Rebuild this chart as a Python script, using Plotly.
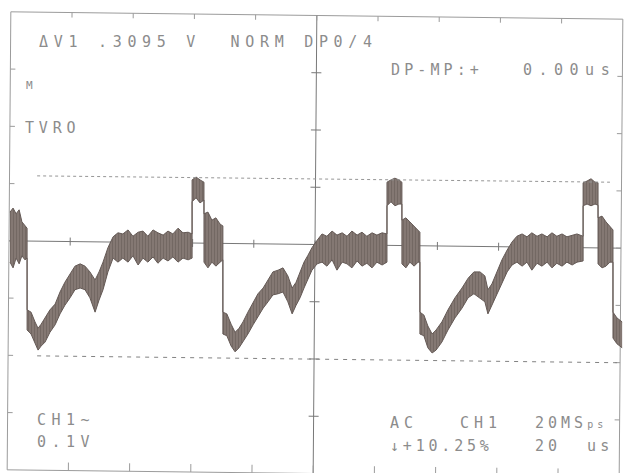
import plotly.graph_objects as go

W, H = 625, 473

# ---------------- data ----------------
# time in microseconds (20 us/div), envelope of the noisy trace in mV (100 mV/div)
time_us = [
    0.0, 1.0, 2.0, 3.0, 3.9, 4.9, 5.6,
    5.6, 6.9, 8.2, 9.2, 10.2, 11.5, 13.1, 14.8, 16.4, 18.0, 19.7, 21.3, 23.0, 24.6, 26.2, 27.9, 29.2, 30.5, 32.1, 33.8, 35.4,
    37.0, 38.7, 40.3, 42.0, 43.6, 45.2, 46.9, 48.5, 50.2, 51.8, 53.4, 55.1, 56.7, 58.4, 59.7,
    59.7, 61.0, 62.3, 63.6,
    63.6, 64.9, 66.2, 67.5, 68.9, 69.8,
    69.8, 71.1, 72.5, 73.8, 75.1, 76.4, 78.0, 79.7, 81.3, 83.0, 84.6, 86.2, 87.9, 89.5, 91.1, 92.5, 93.8, 95.1, 96.4, 97.7, 99.0, 100.7,
    102.3, 103.9, 105.6, 107.2, 108.9, 110.5, 112.1, 113.8, 115.4, 117.0, 118.7, 120.3, 122.0, 123.6,
    123.6, 124.9, 126.2, 127.5, 128.5,
    128.5, 129.8, 131.1, 132.5, 133.8, 134.4,
    134.4, 135.7, 137.0, 138.4, 139.7, 141.6, 143.6, 145.9, 148.2, 150.2, 152.1, 154.1, 155.7, 156.7, 158.0, 159.7, 161.3, 163.0, 164.6,
    166.2, 167.9, 169.5, 171.1, 172.8, 174.4, 176.1, 177.7, 179.3, 181.0, 182.6, 184.3, 185.9, 187.9,
    187.9, 189.2, 190.5, 191.8, 192.8,
    192.8, 194.1, 195.4, 196.7, 197.7,
    197.7, 199.0, 200.7,
]
upper_mV = [
    52, 59, 49, 56, 35, 28, 24,
    -118, -122, -139, -150, -143, -132, -118, -108, -87, -70, -56, -42, -38, -42, -52, -66, -52, -35, -10, 9, 16,
    14, 21, 10, 17, 19, 10, 21, 16, 12, 19, 14, 24, 16, 17, 14,
    108, 113, 108, 104,
    49, 52, 38, 42, 31, 28,
    -122, -125, -143, -157, -150, -139, -122, -104, -90, -80, -66, -52, -49, -45, -59, -80, -70, -52, -35, -23, -10, 3,
    14, 10, 19, 12, 16, 10, 19, 12, 17, 10, 16, 12, 16, 14,
    104, 108, 111, 108, 104,
    38, 42, 35, 28, 21, 17,
    -122, -127, -146, -160, -153, -139, -118, -97, -80, -63, -52, -52, -59, -83, -73, -52, -31, -14, 0,
    10, 14, 9, 16, 10, 14, 9, 16, 10, 14, 9, 12, 14, 10,
    103, 106, 110, 104, 103,
    42, 45, 35, 28, 21,
    -122, -132, -139,
]
lower_mV = [
    -35, -45, -28, -38, -24, -31, -28,
    -153, -160, -177, -188, -181, -174, -157, -144, -125, -110, -97, -83, -80, -83, -97, -122, -101, -83, -52, -28, -35,
    -28, -35, -24, -40, -28, -35, -26, -37, -28, -33, -26, -35, -28, -31, -28,
    70, 77, 68, 73,
    -35, -45, -35, -42, -35, -31,
    -160, -163, -181, -191, -184, -174, -160, -144, -129, -115, -104, -92, -90, -87, -104, -125, -110, -97, -80, -63, -49, -38,
    -35, -42, -31, -49, -35, -38, -45, -33, -42, -37, -45, -35, -40, -35,
    63, 70, 63, 66, 66,
    -38, -45, -35, -42, -35, -35,
    -160, -163, -184, -193, -188, -174, -153, -132, -115, -97, -90, -97, -104, -125, -110, -90, -70, -52, -40,
    -35, -42, -35, -49, -37, -42, -35, -45, -37, -42, -35, -40, -35, -33,
    63, 66, 63, 66, 64,
    -38, -45, -42, -35, -35,
    -167, -177, -184,
]
assert len(time_us) == len(upper_mV) == len(lower_mV)

# voltage cursors (ends; the print is slightly skewed)
cursor1_t = [8.9, 196.7]
cursor1_mV = [115, 104]
cursor2_t = [8.9, 200.0]
cursor2_mV = [-198, -210]

# screen texts
txt_top = "\u0394V1 .3095 V\u00a0\u00a0NORM DP0/4"
txt_dp = "DP-MP:+"
txt_dpv = "0.00us"
txt_label = "TVRO"
txt_ch = "CH1~"
txt_scale = "0.1V"
txt_cpl = "AC"
txt_src = "CH1"
txt_rate = "20MS"
txt_rate_u = "ps"
txt_trig = "\u2193+10.25%"
txt_tb = "20\u00a0\u00a0us"

# ---------------- figure ----------------
TRACE_LINE = "rgb(100,89,85)"
TRACE_FILL = "rgb(142,130,125)"
TRACE_TEX = "rgb(88,78,74)"
GRID = "rgb(155,155,155)"
CROSS = "rgb(120,120,120)"
TEXT = "rgb(140,140,140)"

fig = go.Figure()
fig.add_trace(go.Scatter(x=time_us, y=upper_mV, mode="lines",
                         line=dict(color=TRACE_LINE, width=1), hoverinfo="skip"))
fig.add_trace(go.Scatter(x=time_us, y=lower_mV, mode="lines", fill="tonexty",
                         fillcolor=TRACE_FILL,
                         fillpattern=dict(shape="|", fgcolor=TRACE_TEX, bgcolor=TRACE_FILL,
                                          size=3, solidity=0.6),
                         line=dict(color=TRACE_LINE, width=1), hoverinfo="skip"))
fig.add_trace(go.Scatter(x=cursor1_t, y=cursor1_mV, mode="lines",
                         line=dict(color="rgb(150,150,150)", width=1, dash="dot"), hoverinfo="skip"))
fig.add_trace(go.Scatter(x=cursor2_t, y=cursor2_mV, mode="lines",
                         line=dict(color="rgb(130,130,130)", width=1, dash="4px,5px"), hoverinfo="skip"))

# ---------------- graticule (skewed like the scan) ----------------
SH = 0.012   # dy/dx of horizontal lines
SV = 0.008   # -dx/dy of vertical lines
X0, Y0 = 315.0, 244.5
LEFT, RIGHT = 9.0, 621.0
TOP, DIV_Y = 15.5, 57.25
DIV_X = (RIGHT - LEFT) / 10
BOTTOM = TOP + 8 * DIV_Y


def P(px, py):
    return px / W, 1 - py / H


def skew(px, py):
    # apply the scan skew to a nominal graticule point
    return px - SV * (py - Y0), py + SH * (px - X0)


shapes = []


def seg(p1, p2, color=GRID, width=1):
    a = skew(*p1)
    b = skew(*p2)
    x0, y0 = P(*a)
    x1, y1 = P(*b)
    shapes.append(dict(type="line", xref="paper", yref="paper", x0=x0, y0=y0, x1=x1, y1=y1,
                       line=dict(color=color, width=width), layer="below"))


# frame
seg((LEFT, TOP), (RIGHT, TOP))
seg((LEFT, BOTTOM), (RIGHT, BOTTOM))
seg((LEFT, TOP), (LEFT, BOTTOM))
seg((RIGHT, TOP), (RIGHT, BOTTOM))
# centre cross
CX = LEFT + 5 * DIV_X
CY = TOP + 4 * DIV_Y
seg((LEFT, CY), (RIGHT, CY), color=CROSS)
seg((CX, TOP), (CX, BOTTOM), color=CROSS)
# ticks
for k in range(1, 10):
    x = LEFT + k * DIV_X
    seg((x, TOP), (x, TOP + 5))
    seg((x, BOTTOM), (x, BOTTOM - 8))
    seg((x, CY - 4), (x, CY + 4), color=CROSS)
for k in range(1, 8):
    y = TOP + k * DIV_Y
    seg((LEFT, y), (LEFT + 5, y))
    seg((RIGHT, y), (RIGHT - 5, y))
    seg((CX - 5, y), (CX + 5, y), color=CROSS)

# ---------------- texts ----------------
FONT = "DejaVu Sans Mono"
annotations = []


def label(text, px, py, pitch, size=15):
    ls = pitch - 0.602 * size
    x, y = P(px, py)
    annotations.append(dict(
        text='<span style="letter-spacing:%.1fpx">%s</span>' % (ls, text),
        x=x, y=y, xref="paper", yref="paper", xanchor="left", yanchor="middle",
        showarrow=False, borderpad=0,
        font=dict(family=FONT, size=size, color=TEXT)))


label(txt_top, 38, 42, 14.7)
label(txt_dp, 390, 70, 13.1)
label(txt_dpv, 522, 70, 15.5)
label("M", 25, 85, 10, size=11)
label(txt_label, 24, 128, 13.8)
label(txt_ch, 36, 420, 14.5)
label(txt_scale, 36, 442, 14.5)
label(txt_cpl, 389, 423, 14.0)
label(txt_src, 459, 423, 14.0)
label(txt_rate + '<span style="font-size:10px">' + txt_rate_u + "</span>", 534, 423, 13.0)
label(txt_trig, 389, 446, 12.8)
label(txt_tb, 534, 446, 13.0)

x_lo = (0 - 10) / 3.05
x_hi = (W - 10) / 3.05
y_hi = 242 / 0.575
y_lo = (242 - H) / 0.575

fig.update_layout(
    width=W, height=H,
    margin=dict(l=0, r=0, t=0, b=0),
    paper_bgcolor="white", plot_bgcolor="white",
    showlegend=False,
    xaxis=dict(range=[x_lo, x_hi], visible=False, fixedrange=True),
    yaxis=dict(range=[y_lo, y_hi], visible=False, fixedrange=True),
    shapes=shapes,
    annotations=annotations,
)

fig.write_html("out.html")
